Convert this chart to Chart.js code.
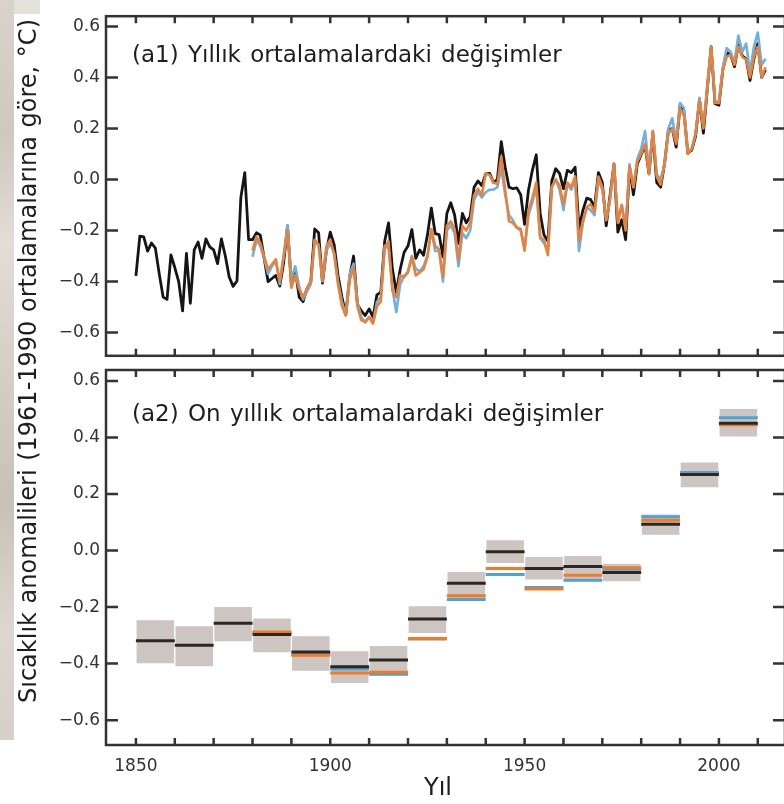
<!DOCTYPE html>
<html>
<head>
<meta charset="utf-8">
<script src="https://cdn.jsdelivr.net/npm/chart.js@4.4.1/dist/chart.umd.min.js"></script>
<style>
  html, body { margin: 0; padding: 0; background: #fff; }
  #wrap { position: relative; width: 784px; height: 804px; overflow: hidden; background: #fff; }
  #edge { position: absolute; left: 0; top: 0; width: 14px; height: 740px;
    background: linear-gradient(to bottom, #d9d3cb 0%, #cfc8bf 18%, #e2ddd6 33%, #d4cdc4 52%, #c9c1b7 68%, #ddd7cf 85%, #d6d0c8 100%); }
  #edgeTop { position: absolute; left: 14px; top: 0; width: 26px; height: 14px; background: #e4e0da; }
  canvas { position: absolute; left: 0; top: 0; }
</style>
</head>
<body>
<div id="wrap">
  <div id="edge"></div>
  <div id="edgeTop"></div>
  <canvas id="decadal" width="790" height="804"></canvas>
  <canvas id="annual" width="790" height="372"></canvas>
</div>
<script>
// ---- data ----
// annual anomalies, black series 1850-2012
const blackStart = 1850;
const blackAnnual = [
  -0.378, -0.222, -0.225, -0.281, -0.249, -0.269, -0.370, -0.461, -0.470, -0.296,
  -0.345, -0.400, -0.515, -0.290, -0.485, -0.276, -0.245, -0.309, -0.233, -0.264,
  -0.276, -0.330, -0.233, -0.300, -0.382, -0.419, -0.398, -0.070, 0.027, -0.236,
  -0.236, -0.209, -0.218, -0.310, -0.400, -0.388, -0.376, -0.418, -0.327, -0.182,
  -0.412, -0.352, -0.461, -0.479, -0.430, -0.400, -0.194, -0.209, -0.406, -0.279,
  -0.206, -0.255, -0.376, -0.461, -0.530, -0.380, -0.300, -0.490, -0.515, -0.533,
  -0.507, -0.540, -0.452, -0.442, -0.242, -0.170, -0.352, -0.442, -0.352, -0.285,
  -0.261, -0.196, -0.309, -0.276, -0.297, -0.218, -0.112, -0.212, -0.216, -0.303,
  -0.133, -0.091, -0.139, -0.250, -0.133, -0.170, -0.145, -0.030, -0.006, -0.024,
  0.022, 0.024, -0.012, 0.000, 0.148, 0.048, -0.030, -0.036, -0.033, -0.060,
  -0.176, -0.042, 0.036, 0.097, -0.133, -0.218, -0.242, -0.006, 0.042, 0.024,
  -0.036, 0.036, 0.027, 0.048, -0.194, -0.121, -0.073, -0.079, -0.109, 0.027,
  -0.012, -0.182, -0.060, 0.061, -0.206, -0.158, -0.236, 0.048, -0.060, 0.061,
  0.097, 0.133, 0.024, 0.182, -0.012, -0.030, 0.061, 0.194, 0.200, 0.127,
  0.291, 0.267, 0.103, 0.115, 0.170, 0.315, 0.182, 0.352, 0.521, 0.297,
  0.291, 0.430, 0.497, 0.491, 0.442, 0.527, 0.485, 0.473, 0.388, 0.473,
  0.533, 0.400, 0.430
];
// orange and blue series 1880-2012
const colourStart = 1880;
const orangeAnnual = [
  -0.279, -0.224, -0.249, -0.303, -0.352, -0.333, -0.313, -0.400, -0.303, -0.200,
  -0.424, -0.376, -0.430, -0.461, -0.427, -0.400, -0.236, -0.255, -0.394, -0.261,
  -0.236, -0.291, -0.412, -0.497, -0.533, -0.394, -0.345, -0.497, -0.552, -0.558,
  -0.539, -0.565, -0.497, -0.479, -0.267, -0.242, -0.436, -0.461, -0.376, -0.382,
  -0.364, -0.303, -0.376, -0.364, -0.352, -0.303, -0.194, -0.261, -0.273, -0.382,
  -0.182, -0.164, -0.194, -0.315, -0.182, -0.200, -0.170, -0.061, -0.036, -0.061,
  0.024, 0.018, -0.012, -0.018, 0.091, -0.040, -0.164, -0.170, -0.188, -0.194,
  -0.279, -0.121, -0.073, -0.012, -0.224, -0.236, -0.297, -0.030, 0.000, -0.024,
  -0.097, -0.012, -0.030, 0.012, -0.242, -0.158, -0.109, -0.097, -0.127, 0.012,
  -0.030, -0.158, -0.073, 0.061, -0.170, -0.100, -0.200, 0.050, -0.030, 0.070,
  0.100, 0.140, 0.020, 0.190, 0.010, -0.020, 0.060, 0.180, 0.200, 0.140,
  0.280, 0.250, 0.100, 0.120, 0.180, 0.310, 0.200, 0.370, 0.520, 0.300,
  0.300, 0.430, 0.480, 0.490, 0.450, 0.520, 0.480, 0.470, 0.400, 0.480,
  0.520, 0.400, 0.440
];
const blueAnnual = [
  -0.303, -0.240, -0.260, -0.310, -0.370, -0.340, -0.320, -0.410, -0.300, -0.180,
  -0.390, -0.340, -0.420, -0.470, -0.440, -0.410, -0.240, -0.260, -0.400, -0.280,
  -0.250, -0.290, -0.400, -0.480, -0.530, -0.370, -0.330, -0.480, -0.540, -0.560,
  -0.540, -0.560, -0.480, -0.460, -0.260, -0.270, -0.430, -0.520, -0.410, -0.380,
  -0.360, -0.300, -0.350, -0.360, -0.340, -0.300, -0.200, -0.280, -0.280, -0.400,
  -0.200, -0.180, -0.210, -0.340, -0.210, -0.230, -0.200, -0.080, -0.050, -0.070,
  -0.050, -0.040, -0.040, -0.030, 0.048, -0.060, -0.140, -0.160, -0.190, -0.200,
  -0.270, -0.140, -0.090, -0.030, -0.230, -0.250, -0.280, -0.030, 0.000, -0.040,
  -0.120, -0.020, -0.040, 0.000, -0.280, -0.170, -0.110, -0.120, -0.140, 0.000,
  -0.040, -0.160, -0.080, 0.060, -0.160, -0.100, -0.190, 0.060, -0.030, 0.080,
  0.120, 0.190, 0.040, 0.190, 0.020, 0.000, 0.060, 0.200, 0.240, 0.150,
  0.300, 0.280, 0.110, 0.120, 0.180, 0.320, 0.210, 0.350, 0.520, 0.310,
  0.300, 0.440, 0.515, 0.500, 0.460, 0.564, 0.500, 0.533, 0.420, 0.520,
  0.576, 0.450, 0.473
];

// decadal means and uncertainty band
const decadeStarts = [1850, 1860, 1870, 1880, 1890, 1900, 1910, 1920, 1930, 1940, 1950, 1960, 1970, 1980, 1990, 2000];
const decBlack  = [-0.319, -0.335, -0.257, -0.297, -0.359, -0.411, -0.387, -0.242, -0.116, -0.004, -0.063, -0.056, -0.078, 0.093, 0.269, 0.451];
const decOrange = [null, null, null, -0.288, -0.370, -0.433, -0.431, -0.311, -0.160, -0.063, -0.136, -0.087, -0.061, 0.107, 0.270, 0.445];
const decBlue   = [null, null, null, -0.290, -0.368, -0.419, -0.438, -0.313, -0.173, -0.085, -0.131, -0.105, -0.066, 0.120, 0.276, 0.470];
const decLow    = [-0.401, -0.412, -0.323, -0.362, -0.428, -0.471, -0.445, -0.294, -0.173, -0.046, -0.105, -0.111, -0.111, 0.054, 0.222, 0.401];
const decHigh   = [-0.244, -0.265, -0.197, -0.238, -0.301, -0.354, -0.335, -0.195, -0.073, 0.039, -0.020, -0.017, -0.044, 0.130, 0.314, 0.503];

// ticks and labels
const yTicks = [-0.6, -0.4, -0.2, 0.0, 0.2, 0.4, 0.6];
const xLabelTicks = [1850, 1900, 1950, 2000];
const xMinorTicks = [1850, 1860, 1870, 1880, 1890, 1900, 1910, 1920, 1930, 1940, 1950, 1960, 1970, 1980, 1990, 2000, 2010];
const titleA1 = '(a1) Yıllık ortalamalardaki değişimler';
const titleA2 = '(a2) On yıllık ortalamalardaki değişimler';
const yTitle = 'Sıcaklık anomalileri (1961-1990 ortalamalarına göre, °C)';
const xTitle = 'Yıl';

// ---- helpers ----
Chart.defaults.font.family = "'DejaVu Sans', sans-serif";
const FRAME = '#333333';
const TEXT = '#1e1e1e';

const toPoints = (start, vals) => vals.map((v, i) => ({ x: start + i, y: v }));

const stepSegments = vals => {
  const pts = [];
  vals.forEach((v, i) => {
    if (v === null) return;
    pts.push({ x: decadeStarts[i], y: v }, { x: decadeStarts[i] + 10, y: v }, { x: decadeStarts[i] + 10, y: null });
  });
  return pts;
};

const fmtTick = v => (v < 0 ? '\u2212' : '') + Math.abs(v).toFixed(1);

const yAxis = (min, max) => ({
  type: 'linear',
  min: min,
  max: max,
  afterBuildTicks: scale => { scale.ticks = yTicks.map(v => ({ value: v })); },
  afterFit: scale => { scale.width = 106; },
  grid: { display: false, drawTicks: false },
  border: { display: false },
  ticks: { color: '#333', padding: 6, font: { size: 17 }, callback: fmtTick }
});

// frame with inward ticks, panel title
const framePlugin = {
  id: 'framePlugin',
  afterDraw(chart, args, opts) {
    const { ctx, chartArea: a, scales: { x, y } } = chart;
    ctx.save();
    ctx.strokeStyle = FRAME;
    ctx.lineWidth = 2.5;
    ctx.strokeRect(a.left, a.top, a.right - a.left, a.bottom - a.top);
    ctx.beginPath();
    xMinorTicks.forEach(t => {
      const px = x.getPixelForValue(t);
      ctx.moveTo(px, a.top); ctx.lineTo(px, a.top + 7);
      ctx.moveTo(px, a.bottom); ctx.lineTo(px, a.bottom - 7);
    });
    yTicks.forEach(t => {
      const py = y.getPixelForValue(t);
      ctx.moveTo(a.left, py); ctx.lineTo(a.left + 12, py);
      ctx.moveTo(a.right, py); ctx.lineTo(a.right - 12, py);
    });
    ctx.stroke();

    ctx.fillStyle = TEXT;
    ctx.font = "23px 'DejaVu Sans'";
    ctx.wordSpacing = '2px';
    ctx.textAlign = 'left';
    ctx.textBaseline = 'alphabetic';
    ctx.fillText(opts.title, 132, a.top + opts.titleDy);

    if (opts.axisTitles) {
      ctx.font = "24px 'DejaVu Sans'";
      ctx.wordSpacing = '0px';
      ctx.textAlign = 'center';
      ctx.fillText(xTitle, 438, 795);
      ctx.translate(36, 361);
      ctx.rotate(-Math.PI / 2);
      ctx.wordSpacing = '1px';
      ctx.fillText(yTitle, 0, 0);
    }
    ctx.restore();
  }
};

// ---- panel a2: decadal ----
new Chart(document.getElementById('decadal'), {
  type: 'bar',
  data: {
    datasets: [
      {
        type: 'bar',
        order: 4,
        data: decadeStarts.map((d, i) => ({ x: d + 5, y: [decLow[i], decHigh[i]] })),
        backgroundColor: '#ccc5c1',
        borderColor: 'rgba(255,255,255,0.55)',
        borderWidth: 1,
        borderSkipped: false,
        barPercentage: 1,
        categoryPercentage: 1
      },
      { type: 'line', order: 3, data: stepSegments(decBlue), borderColor: '#4ea2da', borderWidth: 3, pointRadius: 0, spanGaps: false },
      { type: 'line', order: 2, data: stepSegments(decOrange), borderColor: '#f37a22', borderWidth: 3, pointRadius: 0, spanGaps: false },
      { type: 'line', order: 1, data: stepSegments(decBlack), borderColor: '#2a2725', borderWidth: 3, pointRadius: 0, spanGaps: false }
    ]
  },
  options: {
    responsive: false,
    animation: false,
    events: [],
    layout: { padding: { top: 370, right: 5, bottom: 0, left: 0 } },
    scales: {
      x: {
        type: 'linear',
        min: 1842.3,
        max: 2017,
        offset: false,
        afterBuildTicks: scale => { scale.ticks = xLabelTicks.map(v => ({ value: v })); },
        afterFit: scale => { scale.height = 59; },
        grid: { display: false, drawTicks: false, offset: false },
        border: { display: false },
        ticks: { color: '#333', padding: 11, font: { size: 17 }, maxRotation: 0, callback: v => String(v) }
      },
      y: yAxis(-0.688, 0.639)
    },
    plugins: {
      legend: { display: false },
      tooltip: { enabled: false },
      framePlugin: { title: titleA2, titleDy: 51, axisTitles: true }
    }
  },
  plugins: [framePlugin]
});

// ---- panel a1: annual ----
const lineSet = (data, colour, width, order) => ({
  data: data,
  borderColor: colour,
  borderWidth: width,
  borderJoinStyle: 'round',
  pointRadius: 0,
  tension: 0,
  order: order
});

new Chart(document.getElementById('annual'), {
  type: 'line',
  data: {
    datasets: [
      lineSet(toPoints(blackStart, blackAnnual), '#151515', 2.8, 3),
      lineSet(toPoints(colourStart, blueAnnual), '#6eb0e0', 2.6, 2),
      lineSet(toPoints(colourStart, orangeAnnual), '#e8823a', 2.6, 1)
    ]
  },
  options: {
    responsive: false,
    animation: false,
    events: [],
    layout: { padding: { top: 4, right: 5, bottom: 2, left: 0 } },
    scales: {
      x: {
        type: 'linear',
        min: 1842.3,
        max: 2017,
        afterFit: scale => { scale.height = 0; },
        grid: { display: false, drawTicks: false },
        border: { display: false },
        ticks: { display: false }
      },
      y: yAxis(-0.691, 0.64)
    },
    plugins: {
      legend: { display: false },
      tooltip: { enabled: false },
      framePlugin: { title: titleA1, titleDy: 46, axisTitles: false }
    }
  },
  plugins: [framePlugin]
});
</script>
</body>
</html>
